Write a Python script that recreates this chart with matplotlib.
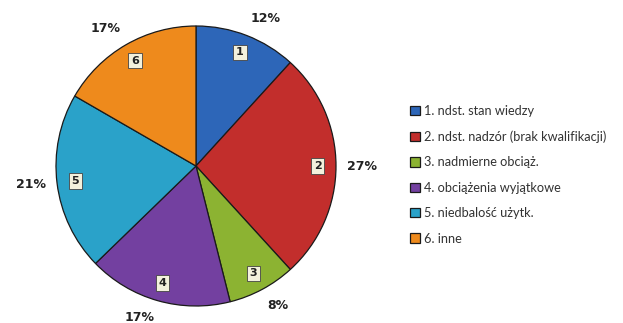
import numpy as np
import matplotlib.pyplot as plt

# udział przyczyn (w %)
numbers = ['1', '2', '3', '4', '5', '6']
shares = [12, 27, 8, 17, 21, 17]
legend_labels = ['1. ndst. stan wiedzy',
                 '2. ndst. nadzór (brak kwalifikacji)',
                 '3. nadmierne obciąż.',
                 '4. obciążenia wyjątkowe',
                 '5. niedbalość użytk.',
                 '6. inne']
colors = ['#2d66b8', '#c22e2c', '#8cb332', '#7340a0', '#2aa2c9', '#ee8a1c']

fig = plt.figure(figsize=(6.23, 3.23), dpi=100)
ax = fig.add_axes([56 / 623, 17 / 323, 280 / 623, 280 / 323])

wedges, texts = ax.pie(shares, colors=colors, startangle=90, counterclock=False,
                       labels=numbers, labeldistance=0.87,
                       wedgeprops=dict(edgecolor='#1a1a1a', linewidth=0.9),
                       textprops=dict(fontsize=8, fontweight='bold', color='#222222',
                                      ha='center', va='center'))
for t in texts:
    t.set_ha('center')
    t.set_bbox(dict(boxstyle='square,pad=0.25', fc='#f3f1dc', ec='#444444', lw=0.6))

# procenty na zewnątrz koła
for w, s in zip(wedges, shares):
    ang = np.deg2rad((w.theta1 + w.theta2) / 2)
    x, y = np.cos(ang), np.sin(ang)
    ha = 'left' if x > 0.1 else ('right' if x < -0.1 else 'center')
    va = 'bottom' if y > 0.5 else ('top' if y < -0.5 else 'center')
    ax.text(1.08 * x, 1.08 * y, f'{s}%', ha=ha, va=va,
            fontsize=9, fontweight='bold', color='#222222')

ax.set_xlim(-1, 1)
ax.set_ylim(-1, 1)
ax.set_aspect('equal')

leg = fig.legend(wedges, legend_labels, loc='upper left',
                 bbox_to_anchor=(410 / 623, 1 - 105 / 323), frameon=False,
                 handlelength=0.75, handleheight=0.75, handletextpad=0.35,
                 labelspacing=1.05, borderpad=0, borderaxespad=0,
                 prop={'family': 'Lato', 'size': 9.2})
for t in leg.get_texts():
    t.set_color('#333333')

fig.savefig('out.png', dpi=100)
